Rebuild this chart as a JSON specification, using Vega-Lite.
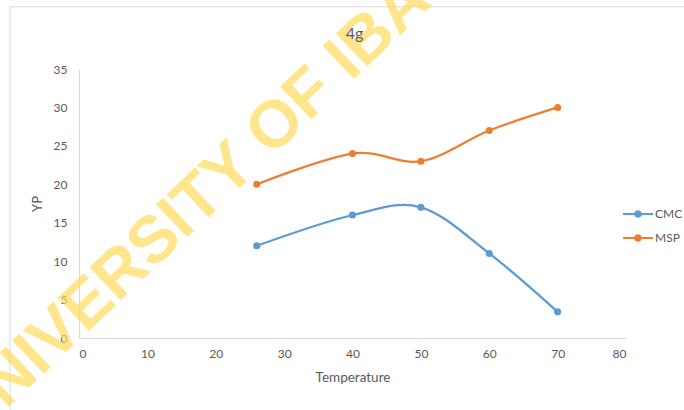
{
  "$schema": "https://vega.github.io/schema/vega-lite/v6.json",
  "width": 547,
  "height": 269,
  "autosize": {"type": "none"},
  "padding": {"left": 79, "top": 69, "right": 58, "bottom": 72},
  "background": "white",
  "config": {
    "font": "Lato",
    "view": {"stroke": null},
    "axis": {
      "domainColor": "#d9d9d9",
      "domainWidth": 1,
      "ticks": false,
      "grid": false,
      "labelColor": "#595959",
      "labelFontSize": 12,
      "labelOverlap": false,
      "labelSeparation": 0,
      "labelBound": false,
      "titleColor": "#595959",
      "titleFontSize": 13.5,
      "titleFontWeight": "normal"
    },
    "axisY": {"labelOverlap": false, "tickCount": 8},
    "axisLeft": {"labelOverlap": false}
  },
  "data": {
    "values": [
      {"Temperature": 26, "YP": 12, "Series": "CMC"},
      {"Temperature": 40, "YP": 16, "Series": "CMC"},
      {"Temperature": 50, "YP": 17, "Series": "CMC"},
      {"Temperature": 60, "YP": 11, "Series": "CMC"},
      {"Temperature": 70, "YP": 3.4, "Series": "CMC"},
      {"Temperature": 26, "YP": 20, "Series": "MSP"},
      {"Temperature": 40, "YP": 24, "Series": "MSP"},
      {"Temperature": 50, "YP": 23, "Series": "MSP"},
      {"Temperature": 60, "YP": 27, "Series": "MSP"},
      {"Temperature": 70, "YP": 30, "Series": "MSP"}
    ]
  },
  "layer": [
    {
      "data": {"values": [{}]},
      "mark": {"type": "rect", "fill": "transparent", "stroke": "#d9d9d9", "strokeWidth": 1, "clip": false},
      "encoding": {
        "x": {"datum": -10.1, "type": "quantitative", "scale": {"domain": [0, 80], "nice": false, "zero": false},
              "axis": {"title": "Temperature", "values": [0,10,20,30,40,50,60,70,80], "labelOverlap": false, "labelPadding": 10, "titlePadding": 11}},
        "x2": {"datum": 130},
        "y": {"datum": 43.1, "type": "quantitative", "scale": {"domain": [0, 35], "nice": false},
              "axis": {"title": "YP", "titleFontSize": 13, "values": [0,5,10,15,20,25,30,35], "tickCount": 8, "labelOverlap": false, "labelPadding": 12, "titlePadding": 9}},
        "y2": {"datum": -30}
      }
    },
    {
      "mark": {"type": "line", "interpolate": "cardinal", "strokeWidth": 2.25},
      "encoding": {
        "x": {"field": "Temperature", "type": "quantitative"},
        "y": {"field": "YP", "type": "quantitative"},
        "color": {
          "field": "Series", "type": "nominal",
          "scale": {"domain": ["CMC", "MSP"], "range": ["#5B9BD5", "#ED7D31"]},
          "legend": {
            "title": null,
            "orient": "none",
            "legendX": 549,
            "legendY": 135,
            "padding": 0,
            "symbolType": "M-1.5,-0.1H1.5V0.1H-1.5Z M-0.38,0A0.38,0.38 0 1,1 0.38,0A0.38,0.38 0 1,1 -0.38,0Z",
            "symbolSize": 400,
            "symbolStrokeWidth": 0,
            "labelOffset": 7,
            "rowPadding": 8,
            "labelFontSize": 12,
            "labelColor": "#595959",
            "labelFont": "Lato",
            "encode": {"symbols": {"update": {"fill": {"scale": "color", "field": "value"}, "strokeWidth": {"value": 0}, "opacity": {"value": 1}}}}
          }
        }
      }
    },
    {
      "mark": {"type": "point", "filled": true, "size": 50, "opacity": 1},
      "encoding": {
        "x": {"field": "Temperature", "type": "quantitative"},
        "y": {"field": "YP", "type": "quantitative"},
        "color": {"field": "Series", "type": "nominal"}
      }
    },
    {
      "data": {"values": [{}]},
      "mark": {"type": "text", "text": "UNIVERSITY OF IBADAN", "angle": 316.5, "fontSize": 66, "fontWeight": "bold", "font": "Liberation Sans", "fill": "#FFDB5B", "opacity": 0.7, "align": "center", "baseline": "middle", "clip": false},
      "encoding": {
        "x": {"datum": 23.6, "type": "quantitative"},
        "y": {"datum": 23.25, "type": "quantitative"}
      }
    },
    {
      "data": {"values": [{}]},
      "mark": {"type": "text", "text": "4g", "fontSize": 16, "font": "Lato", "fill": "#595959", "align": "center", "baseline": "alphabetic", "clip": false},
      "encoding": {
        "x": {"datum": 40.3, "type": "quantitative"},
        "y": {"datum": 38.9, "type": "quantitative"}
      }
    }
  ]
}
